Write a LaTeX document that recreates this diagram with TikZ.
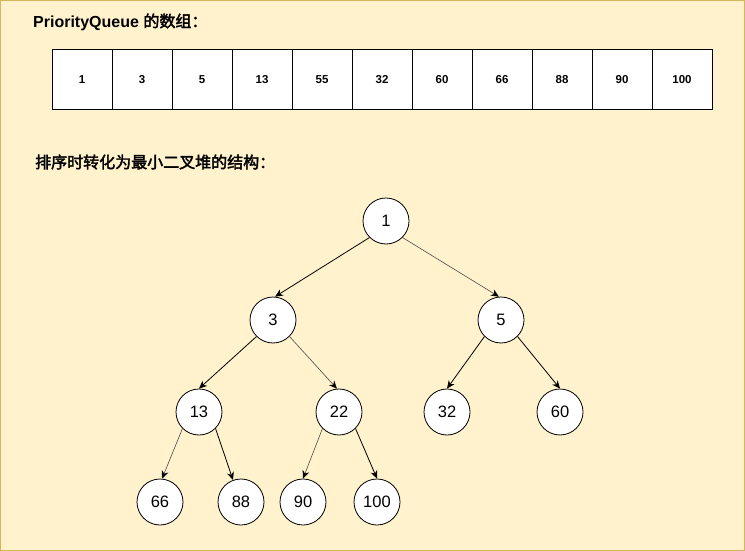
\documentclass[tikz,border=0pt]{standalone}
\usepackage{fontspec}
\setmainfont{Liberation Sans}
\newfontfamily\cjk[AutoFakeBold=2.5]{Noto Sans CJK SC}
\usetikzlibrary{arrows.meta}
\definecolor{bgy}{HTML}{FFF2CC}
\definecolor{bdr}{HTML}{D6B656}
\begin{document}
\begin{tikzpicture}[x=1pt,y=-1pt,
  cell/.style={draw,fill=white,minimum width=60pt,minimum height=60pt,inner sep=0pt,font=\fontsize{11.5}{13}\selectfont\bfseries,line width=1pt},
  hnode/.style={circle,draw,fill=white,minimum size=46pt,inner sep=0pt,font=\fontsize{16.5}{18}\selectfont,line width=0.8pt},
  arr/.style={-{Stealth[length=8pt,width=7pt]},line width=0.8pt},
  garr/.style={-{Stealth[length=8pt,width=7pt,black]},draw=black!70,line width=0.6pt},
  ttl/.style={anchor=west,font=\fontsize{16}{19}\selectfont\bfseries,inner sep=0pt}]
\useasboundingbox (0,0) rectangle (745,551);
\fill[bgy] (0,0) rectangle (745,551);
\draw[bdr,line width=1pt] (0.5,0.5) rectangle (744.5,550.5);
\node[ttl] (t1) at (33,22) {PriorityQueue {\cjk 的数组：}};
\node[ttl] (t2) at (35,162) {{\cjk 排序时转化为最小二叉堆的结构：}};
\foreach \v [count=\i] in {1,3,5,13,55,32,60,66,88,90,100}
  \node[cell] (c\i) at ({22+60*\i},80) {\v};
\node[hnode] (n1) at (386,221) {1};
\node[hnode] (n3) at (273,320) {3};
\node[hnode] (n5) at (501,320) {5};
\node[hnode] (n13) at (199,412) {13};
\node[hnode] (n22) at (339,412) {22};
\node[hnode] (n32) at (447,412) {32};
\node[hnode] (n60) at (560,412) {60};
\node[hnode] (n66) at (160,502) {66};
\node[hnode] (n88) at (241,502) {88};
\node[hnode] (n90) at (303,502) {90};
\node[hnode] (n100) at (377,502) {100};
\draw[arr] (n1.225) -- (n3.85);
\draw[garr] (n1.315) -- (n5.95);
\draw[arr] (n3.225) -- (n13.north);
\draw[garr] (n3.315) -- (n22.95);
\draw[arr] (n5.225) -- (n32.north);
\draw[arr] (n5.315) -- (n60.north);
\draw[garr] (n13.225) -- (n66.85);
\draw[arr] (n13.315) -- (n88.110);
\draw[garr] (n22.225) -- (n90.north);
\draw[arr] (n22.315) -- (n100.north);
\end{tikzpicture}
\end{document}
